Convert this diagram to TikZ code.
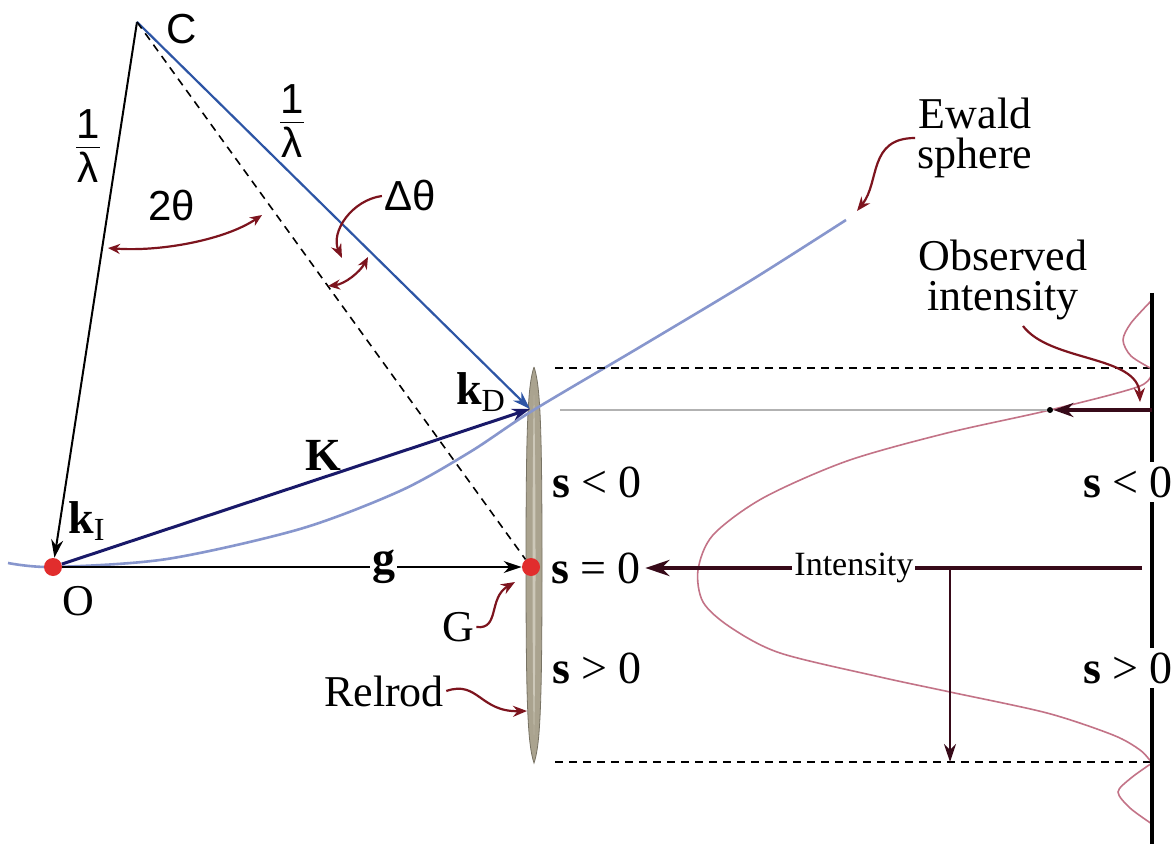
\documentclass[tikz,border=0pt]{standalone}
\usepackage{fontspec}
\setmainfont{Liberation Serif}
\newfontfamily\sansf{Liberation Sans}
\usetikzlibrary{arrows.meta}
\definecolor{beamblue}{RGB}{45,85,165}
\definecolor{vecnavy}{RGB}{25,25,105}
\definecolor{ewaldblue}{RGB}{135,150,205}
\definecolor{dotred}{RGB}{225,45,45}
\definecolor{pointred}{RGB}{125,20,30}
\definecolor{intdark}{RGB}{55,10,25}
\definecolor{profpink}{RGB}{195,115,135}
\definecolor{rodfill}{RGB}{170,163,143}
\definecolor{rodedge}{RGB}{120,115,100}
\definecolor{rodlight}{RGB}{205,200,185}
\newcommand{\invlam}{$\frac{\hbox{1}\rule[-4pt]{0pt}{4pt}}{\rule{0pt}{17pt}\hbox{λ}}$}
\begin{document}
\begin{tikzpicture}[x=0.5pt,y=-0.5pt,
  lab/.style={font=\fontsize{22}{20}\selectfont, inner sep=1pt},
  sanslab/.style={font=\sansf\fontsize{21}{24}\selectfont, inner sep=1pt},
  veclab/.style={font=\bfseries\fontsize{23}{26}\selectfont, inner sep=1pt},
  slab/.style={font=\fontsize{23}{26}\selectfont, fill=white, inner sep=2pt},
  spot/.style={circle, fill=dotred, minimum size=9pt, inner sep=0pt},
  pointer/.style={draw=pointred, line width=1.1pt, -{Stealth[length=7pt,width=5.5pt]}},
  twoway/.style={pointer, {Stealth[length=6pt,width=5pt]}-{Stealth[length=6pt,width=5pt]}},
  intline/.style={draw=intdark, line width=2pt},
  guide/.style={dash pattern=on 4pt off 3pt, line width=0.8pt},
  profile/.style={draw=profpink, line width=0.8pt}]
\useasboundingbox[fill=white] (0,0) rectangle (1176,844);

\fill[rodfill, draw=rodedge, line width=0.4pt] (534,367) .. controls (540,385) and (542,420) .. (542,565)
  .. controls (542,710) and (540,745) .. (534,763) .. controls (528,745) and (526,710) .. (526,565)
  .. controls (526,420) and (528,385) .. (534,367);
\fill[rodlight] (534,395) .. controls (536,470) and (536,660) .. (534,735) .. controls (532,660) and (532,470) .. (534,395);

\draw[ewaldblue, line width=1.3pt] plot[smooth] coordinates {(8,563) (53,567) (167,559) (300,529) (400,491) (470,452) (532,411) (640,347) (750,281) (846,220)};

\coordinate (C) at (137,22);
\coordinate (D) at (530,409);
\node[spot] (O) at (53,567) {};
\node[spot] (G) at (531,567) {};

\node[sanslab] (Clab) at (182,29) {C};
\node[sanslab] (lamL) at (88,146) {\invlam};
\node[sanslab] (lamR) at (292,121) {\invlam};
\node[sanslab] (tth) at (172,206) {2θ};
\node[sanslab] (dth) at (410,196) {Δθ};
\node[veclab] (kI) at (87,521) {k\textsubscript{\mdseries I}};
\node[veclab] (kD) at (481,392) {k\textsubscript{\mdseries D}};
\node[veclab] (Klab) at (323,455) {K};
\node[lab] (Olab) at (78,601) {O};
\node[lab] (Glab) at (458,627) {G};
\node[lab] (rel) at (384,691) {Relrod};
\node[lab, align=center] (ewald) at (975,138) {Ewald\\sphere};
\node[lab, align=center] (obs) at (1003,280) {Observed\\intensity};

\draw[line width=1pt, -{Stealth[length=9pt,width=6pt]}] (C) -- (O);
\draw[beamblue, line width=1.1pt, -{Stealth[length=9pt,width=6pt]}] (C) -- (D);
\draw[guide] (C) -- (G);
\draw[vecnavy, line width=1.5pt, -{Stealth[length=9pt,width=6pt]}] (O) -- (D);
\draw[line width=1pt, -{Stealth[length=9pt,width=6pt]}] (O) -- node[pos=0.7, veclab, fill=white] (glab) {g} (G);

\coordinate (tA) at (108,248);
\coordinate (tB) at (262,215);
\draw[twoway] (tA) .. controls (160,252) and (225,240) .. (tB);
\coordinate (dA) at (328,286);
\coordinate (dB) at (368,257);
\draw[twoway] (dA) .. controls (345,284) and (360,272) .. (dB);
\coordinate (dTip) at (342,258);
\draw[pointer] (dth.west) .. controls (352,200) and (330,232) .. (dTip);

\coordinate (Gtip) at (515,582);
\draw[pointer] (Glab.east) .. controls (500,630) and (488,598) .. (Gtip);
\coordinate (rodTip) at (527,711);
\draw[pointer] (rel.east) .. controls (478,680) and (480,712) .. (rodTip);
\coordinate (ewTip) at (857,211);
\draw[pointer] (ewald.west) .. controls (868,138) and (880,182) .. (ewTip);

\coordinate (topL) at (555,368);
\coordinate (topR) at (1152,368);
\coordinate (botL) at (555,762);
\coordinate (botR) at (1152,762);
\draw[guide] (topL) -- (topR);
\draw[guide] (botL) -- (botR);

\draw[profile] plot[smooth] coordinates {(1152,300) (1131,323) (1123,340) (1131,356) (1152,369)};
\draw[profile] plot[smooth] coordinates {(1152,369) (1140,386) (1050,410) (947,433) (847,461) (763,498) (713,535) (698,570) (703,602) (730,627) (780,653) (880,677) (950,692) (1047,713) (1113,735) (1140,750) (1152,763)};
\draw[profile] plot[smooth] coordinates {(1152,763) (1131,778) (1118,792) (1130,808) (1152,824)};

\coordinate (vT) at (1152,293);
\coordinate (vB) at (1152,844);
\draw[line width=1.8pt] (vT) -- (vB);

\coordinate (gL) at (560,410);
\node[circle, fill=black, minimum size=3pt, inner sep=0pt] (peak) at (1050,410) {};
\draw[black!30, line width=1.3pt] (gL) -- (peak);
\coordinate (gR) at (1152,410);
\draw[intline, -{Stealth[length=10pt,width=7pt]}] (gR) -- (peak);
\coordinate (obsStart) at (1023,326);
\draw[pointer] (obsStart) .. controls (1050,362) and (1138,355) .. (1140,402);

\node[slab] (sl1) at (597,482) {\textbf{s} < 0};
\node[slab] (sl0) at (596,568) {\textbf{s} = 0};
\node[slab] (sl2) at (597,668) {\textbf{s} > 0};
\node[slab] (sr1) at (1128,482) {\textbf{s} < 0};
\node[slab] (sr2) at (1128,668) {\textbf{s} > 0};

\coordinate (iR) at (1142,568);
\draw[intline, -{Stealth[length=12pt,width=8pt]}] (iR) -- node[pos=0.58, font=\fontsize{17}{20}\selectfont, fill=white, inner sep=1pt] (ilab) {Intensity} (sl0.east);
\coordinate (dTop) at (950,568);
\coordinate (dBot) at (950,762);
\draw[draw=intdark, line width=1.3pt, -{Stealth[length=9pt,width=6pt]}] (dTop) -- (dBot);
\end{tikzpicture}
\end{document}
